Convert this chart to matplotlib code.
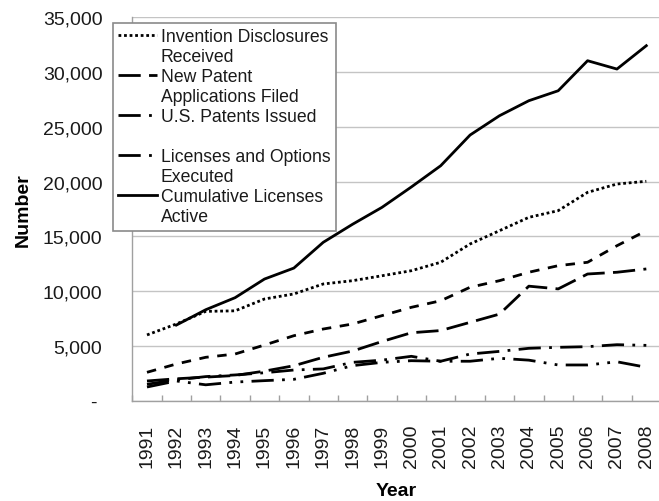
import numpy as np
import matplotlib
matplotlib.use('Agg')
import matplotlib.pyplot as plt
from matplotlib.lines import Line2D
from matplotlib.ticker import FixedLocator, FuncFormatter

plt.rcParams['font.family'] = ['Liberation Sans', 'DejaVu Sans']

# Data
years = list(range(1991, 2009))
invention_disclosures = [6000, 7000, 8150, 8200, 9280, 9740, 10650, 10950, 11400, 11860,
                         12630, 14300, 15510, 16730, 17340, 19010, 19770, 20020]
total_applications = [2590, 3350, 3960, 4260, 5080, 5930, 6540, 7000, 7760, 8520,
                      9120, 10350, 10950, 11720, 12320, 12630, 14140, 15510]
new_applications = [1800, 2000, 2150, 2300, 2700, 3190, 3960, 4530, 5400, 6200,
                    6400, 7150, 7900, 10450, 10200, 11560, 11720, 12020]
licenses_options = [1500, 1900, 2200, 2350, 2550, 2800, 2900, 3500, 3700, 4050,
                    3600, 4260, 4500, 4780, 4870, 4930, 5110, 5050]
patents_issued = [1250, 1800, 1450, 1700, 1830, 1950, 2500, 3200, 3500, 3650,
                  3600, 3600, 3870, 3700, 3260, 3260, 3550, 3050]
cumulative_licenses = [np.nan, 6900, 8300, 9400, 11100, 12100, 14450, 16100, 17640, 19500,
                       21440, 24240, 26000, 27370, 28280, 31020, 30260, 32390]

W, H = 659, 502
fig = plt.figure(figsize=(W / 100, H / 100), dpi=100)
ax = fig.add_axes([132.3 / W, 1 - 401.7 / H, (661 - 132.3) / W, (401.7 - 18.1) / H])

x = np.arange(len(years))
lw = 2.0
styles = {
    'dot': (0, (1, 1)),
    'dash': (0, (3.4, 3.1)),
    'longdash': (0, (8, 3)),
    'ldd': (0, (8, 3, 1, 3)),
    'lddd': (0, (8, 3, 1, 3, 1, 3)),
}

ax.plot(x, invention_disclosures, color='black', lw=lw, linestyle=styles['dot'])
ax.plot(x, total_applications, color='black', lw=lw, linestyle=styles['dash'])
ax.plot(x, new_applications, color='black', lw=lw, linestyle=styles['longdash'])
ax.plot(x, licenses_options, color='black', lw=lw, linestyle=styles['ldd'])
ax.plot(x, patents_issued, color='black', lw=lw, linestyle=styles['lddd'])
ax.plot(x, cumulative_licenses, color='black', lw=lw, linestyle='-')

ax.set_xlim(-0.5, len(years) - 0.5)
ax.set_ylim(0, 35000)

# gridlines and spines
ax.set_yticks(np.arange(0, 35001, 5000))
ax.yaxis.grid(True, color='#c4c4c4', lw=1.0)
ax.set_axisbelow(True)
for s in ['top', 'right']:
    ax.spines[s].set_visible(False)
for s in ['left', 'bottom']:
    ax.spines[s].set_color('#a0a0a0')
    ax.spines[s].set_linewidth(1.0)

ax.yaxis.set_major_formatter(FuncFormatter(lambda v, p: '- ' if v == 0 else f'{int(v):,}'))
ax.tick_params(axis='y', length=0, pad=21.5, labelsize=14, labelcolor='#1a1a1a')

ax.set_xticks(x)
ax.set_xticklabels([str(y) for y in years], rotation=90)
ax.xaxis.set_minor_locator(FixedLocator(np.arange(-0.5, len(years), 1.0)))
ax.tick_params(axis='x', which='major', length=0, pad=16.5, labelsize=14, labelcolor='#1a1a1a')
ax.tick_params(axis='x', which='minor', direction='in', length=4, width=1.0, color='#a0a0a0')

ax.set_xlabel('Year', fontsize=14, fontweight='bold')
ax.xaxis.set_label_coords(0.5, -(491.5 - 401.7) / (401.7 - 18.1))
ax.xaxis.label.set_va('center')
ax.set_ylabel('Number', fontsize=14, fontweight='bold')
ax.yaxis.set_label_coords(-(132.3 - 23) / (661 - 132.3), 0.5)
ax.yaxis.label.set_va('center')

# legend: two-line labels, handle aligned with the first line
def h(style):
    return Line2D([], [], color='black', lw=lw, linestyle=styles[style] if style in styles else style)

blank = Line2D([], [], linestyle='none')
handles = [h('dot'), blank, h('longdash'), blank, h('ldd'), blank,
           h('lddd'), blank, h('-'), blank]
labels = ['Invention Disclosures', 'Received', 'New Patent', 'Applications Filed',
          'U.S. Patents Issued', ' ', 'Licenses and Options', 'Executed',
          'Cumulative Licenses', 'Active']
leg = fig.legend(handles, labels, loc='upper left', bbox_to_anchor=(113 / W, 1 - 24 / H),
                 borderaxespad=0, fontsize=12.7, labelspacing=0.17, handlelength=2.2,
                 handletextpad=0.2, borderpad=0.3, frameon=True, fancybox=False,
                 framealpha=1, edgecolor='#8a8a8a')
leg.get_frame().set_linewidth(1.2)
for t in leg.get_texts():
    t.set_color('#1a1a1a')

fig.savefig('out.png', dpi=100)
